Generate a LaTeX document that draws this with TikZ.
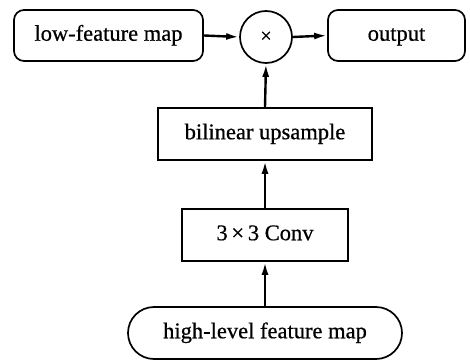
\documentclass[tikz,border=0pt]{standalone}
\usepackage{fontspec}
\setmainfont{Liberation Serif}[FakeBold=0.6]
\usetikzlibrary{arrows.meta}
\begin{document}
\begin{tikzpicture}[x=1pt,y=-1pt,
  every node/.style={font=\fontsize{22.5}{27}\selectfont, inner sep=0pt, text height=15.5pt, text depth=5pt},
  rbox/.style={draw, line width=1.7pt, rounded corners=10pt, minimum height=51pt},
  sbox/.style={draw, line width=1.7pt, minimum height=52pt},
  pill/.style={draw, line width=1.7pt, rounded corners=26pt, minimum height=52pt},
  arr/.style={line width=2.4pt, -{Latex[length=13pt,width=7pt]}}
]
\useasboundingbox (0,0) rectangle (470,363);
\node[rbox, minimum width=189pt] (low) at (108.5,35.5) {low-feature map};
\node[draw, circle, line width=1.7pt, minimum size=52pt, text height=, text depth=] (mul) at (266,37) {\fontsize{20}{24}\selectfont ×};
\node[rbox, minimum width=137pt] (out) at (396.5,35.5) {output};
\node[sbox, minimum width=214pt] (up) at (265,134) {bilinear upsample};
\node[sbox, minimum width=166pt] (conv) at (265,235) {3\,×\,3 Conv};
\node[pill, minimum width=274pt] (high) at (265,333) {high-level feature map};
\draw[arr] (low.east) -- (mul.west);
\draw[arr] (mul.east) -- (out.west);
\draw[arr] (up.north) -- (mul.south);
\draw[arr] (conv.north) -- (up.south);
\draw[arr] (high.north) -- (conv.south);
\end{tikzpicture}
\end{document}
